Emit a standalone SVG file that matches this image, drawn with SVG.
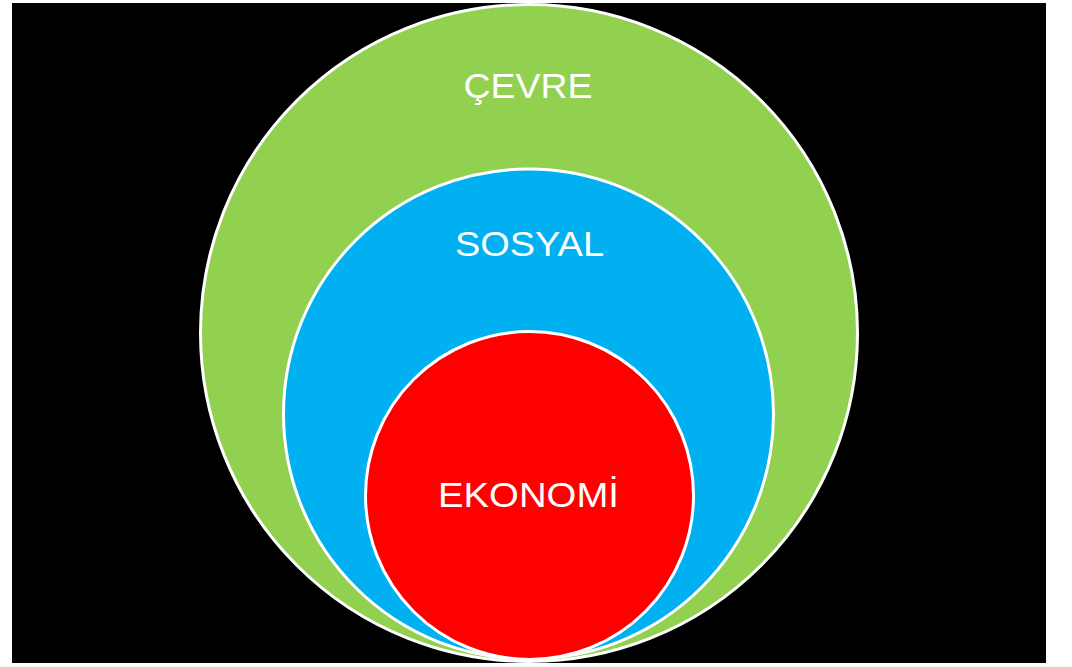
<svg xmlns="http://www.w3.org/2000/svg" width="1072" height="667" viewBox="0 0 1072 667">
  <style>
    .ring { stroke: #ffffff; stroke-width: 3; }
    .label { font-family: "Liberation Sans", Arial, sans-serif; font-size: 35px; fill: #ffffff; text-anchor: middle; }
  </style>
  <rect x="0" y="0" width="1072" height="667" fill="#ffffff"/>
  <rect x="12" y="3" width="1034" height="660" fill="#000000"/>
  <g id="cevre">
    <circle class="ring" cx="529" cy="333" r="328.5" fill="#92D050"/>
    <text class="label" x="528" y="98" textLength="129" lengthAdjust="spacingAndGlyphs">ÇEVRE</text>
  </g>
  <g id="sosyal">
    <circle class="ring" cx="528.5" cy="414" r="245" fill="#00B0F0"/>
    <text class="label" x="529.5" y="256" textLength="149" lengthAdjust="spacingAndGlyphs">SOSYAL</text>
  </g>
  <g id="ekonomi">
    <circle class="ring" cx="529.5" cy="495.5" r="164" fill="#FF0000"/>
    <text class="label" x="528.5" y="507" textLength="181" lengthAdjust="spacingAndGlyphs">EKONOMİ</text>
  </g>
  <g id="connectors"></g>
</svg>
